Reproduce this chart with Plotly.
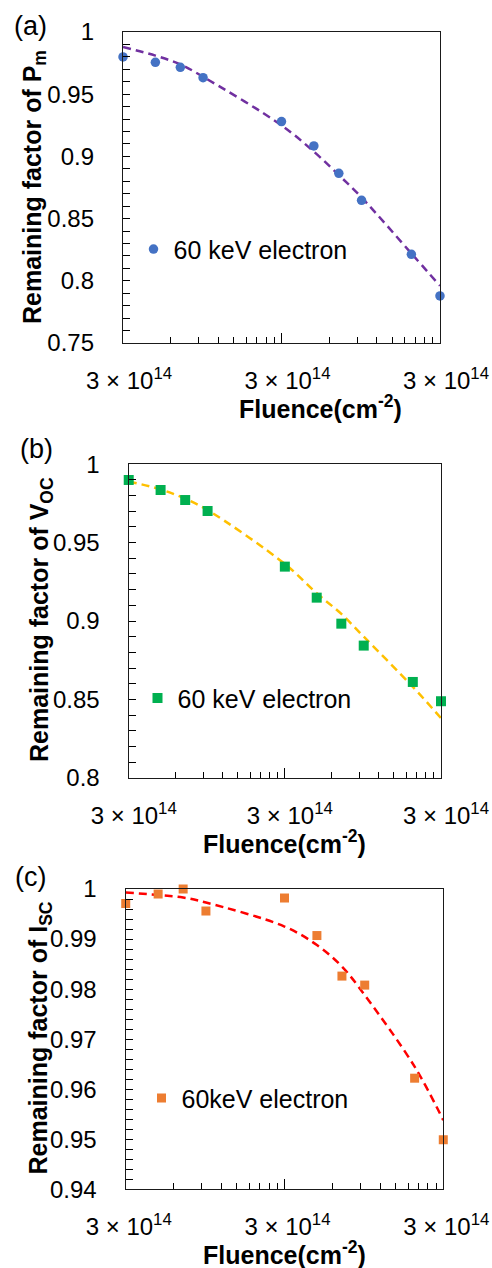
import plotly.graph_objects as go

W, H = 492, 1268

# ---- data ----
fluence = [1e13, 1.6e13, 2.3e13, 3.2e13, 1e14, 1.6e14, 2.3e14, 3.2e14, 6.6e14, 1e15]

pm_data = [0.980, 0.9756, 0.9716, 0.9633, 0.928, 0.9084, 0.8864, 0.8647, 0.8213, 0.7878]
pm_fit = [0.988, 0.981, 0.974, 0.964, 0.925, 0.9038, 0.885, 0.867, 0.822, 0.796]

voc_data = [0.990, 0.9836, 0.9772, 0.9702, 0.9347, 0.9149, 0.8983, 0.8843, 0.8611, 0.8488]
voc_fit = [0.989, 0.984, 0.978, 0.9708, 0.9364, 0.9177, 0.9045, 0.890, 0.858, 0.838]

isc_data = [0.9971, 0.9990, 1.0000, 0.9956, 0.9982, 0.9907, 0.9826, 0.9808, 0.9622, 0.9499]
isc_fit = [0.9993, 0.9988, 0.9983, 0.9973, 0.9925, 0.9888, 0.9845, 0.9788, 0.9645, 0.9538]

x_tickvals = [1e13, 1e14, 1e15]
x_ticktext = ["3 × 10<sup>14</sup>", "3 × 10<sup>14</sup>", "3 × 10<sup>14</sup>"]
x_minor = [m * 10 ** e for e in (13, 14) for m in range(2, 10)]

legend_names = ["60 keV electron", "60 keV electron", "60keV electron"]
panel_labels = ["(a)", "(b)", "(c)"]
y_titles = ["Remaining factor of P<sub>m</sub>",
            "Remaining factor of V<sub>OC</sub>",
            "Remaining factor of I<sub>SC</sub>"]
x_title = "Fluence(cm<sup>-2</sup>)"

FONT = "Arial, Liberation Sans, sans-serif"


def px_x(v):
    return v / W


def px_y(v):
    return 1 - v / H


# panel geometry in pixels: (left, right, top, bottom)
boxes = [(123, 440, 32, 343), (128.7, 441, 464.3, 777.7), (125.7, 443.3, 889, 1189.3)]
yranges = [(0.75, 1.0, 0.05, 0.01), (0.8, 1.0, 0.05, 0.01), (0.94, 1.0, 0.01, 0.002)]
label_shift = [6, 5, 3]

series = [
    (pm_data, pm_fit, "circle", "#4472C4", 9.5, "#7030A0"),
    (voc_data, voc_fit, "square", "#00B050", 10, "#FFC000"),
    (isc_data, isc_fit, "square", "#ED7D31", 9, "#FF0000"),
]

fig = go.Figure()

for i, (d, f, sym, mcol, msz, lcol) in enumerate(series):
    n = "" if i == 0 else str(i + 1)
    xa, ya = "x" + n, "y" + n
    lg = "legend" + n
    fig.add_trace(go.Scatter(x=fluence, y=f, mode="lines", xaxis=xa, yaxis=ya,
                             line=dict(color=lcol, width=2.5, dash="8px,5px", shape="spline"),
                             showlegend=False, hoverinfo="skip"))
    fig.add_trace(go.Scatter(x=fluence, y=d, mode="markers", xaxis=xa, yaxis=ya,
                             name=legend_names[i], legend=lg, cliponaxis=False,
                             marker=dict(symbol=sym, color=mcol, size=msz)))

layout = dict(width=W, height=H,
              margin=dict(l=0, r=0, t=0, b=0, pad=0, autoexpand=False),
              paper_bgcolor="white", plot_bgcolor="white",
              font=dict(family=FONT, color="black"))

legend_pos = [(155.5, 249.3), (159.5, 698.3), (163.5, 1098.3)]
annotations = []
label_pos = [(30.5, 26), (36, 449), (31, 877)]
ytitle_pos = [(34, 187), (41, 620), (39, 1038.5)]
xtitle_pos = [(320, 407), (284, 842), (284, 1253)]

EPS = 1e-4
for i in range(3):
    n = "" if i == 0 else str(i + 1)
    l, r, t, b = boxes[i]
    y0, y1, dt, mdt = yranges[i]
    layout["xaxis" + n] = dict(
        type="log", range=[13 - EPS, 15 + EPS], domain=[px_x(l), px_x(r)], anchor="y" + n,
        tickmode="array", tickvals=x_tickvals, ticktext=x_ticktext,
        ticks="inside", ticklen=10, tickwidth=1, tickcolor="black",
        minor=dict(tickmode="array", tickvals=x_minor, ticks="inside", ticklen=6,
                   tickwidth=1, tickcolor="black"),
        showgrid=False, zeroline=False, showline=True, linecolor="#1a1a1a", linewidth=1.4,
        mirror=True, tickfont=dict(size=24, family=FONT, color="black"),
        ticklabelstandoff=16, ticklabelshift=label_shift[i], automargin=False,
    )
    layout["yaxis" + n] = dict(
        range=[y0, y1], domain=[px_y(b), px_y(t)], anchor="x" + n,
        tick0=0, dtick=dt, ticks="inside", ticklen=7, tickwidth=1, tickcolor="black",
        minor=dict(dtick=mdt, tick0=0, ticks="inside", ticklen=7, tickwidth=1,
                   tickcolor="black"),
        showgrid=False, zeroline=False, showline=True, linecolor="#1a1a1a", linewidth=1.4,
        mirror=True, tickfont=dict(size=24, family=FONT, color="black"),
        ticklabelstandoff=23, automargin=False,
    )
    mx, my = legend_pos[i]
    layout["legend" + n] = dict(
        x=px_x(mx - 22), y=px_y(my), xanchor="left", yanchor="middle",
        bgcolor="rgba(0,0,0,0)", borderwidth=0,
        font=dict(size=25, family=FONT, color="black"), itemwidth=30,
    )
    annotations.append(dict(text=panel_labels[i], x=px_x(label_pos[i][0]), y=px_y(label_pos[i][1]),
                            xref="paper", yref="paper", showarrow=False,
                            xanchor="center", yanchor="middle",
                            font=dict(size=27, family=FONT, color="black")))
    annotations.append(dict(text=y_titles[i], x=px_x(ytitle_pos[i][0]), y=px_y(ytitle_pos[i][1]),
                            xref="paper", yref="paper", showarrow=False, textangle=-90,
                            xanchor="center", yanchor="middle",
                            font=dict(size=25, family=FONT, color="black", weight="bold")))
    annotations.append(dict(text=x_title, x=px_x(xtitle_pos[i][0]), y=px_y(xtitle_pos[i][1]),
                            xref="paper", yref="paper", showarrow=False,
                            xanchor="center", yanchor="middle",
                            font=dict(size=25, family=FONT, color="black", weight="bold")))

layout["annotations"] = annotations
fig.update_layout(**layout)

fig.write_html("out.html", config={"displayModeBar": False},
               post_script="document.body.style.margin='0';document.body.style.overflow='hidden';")
